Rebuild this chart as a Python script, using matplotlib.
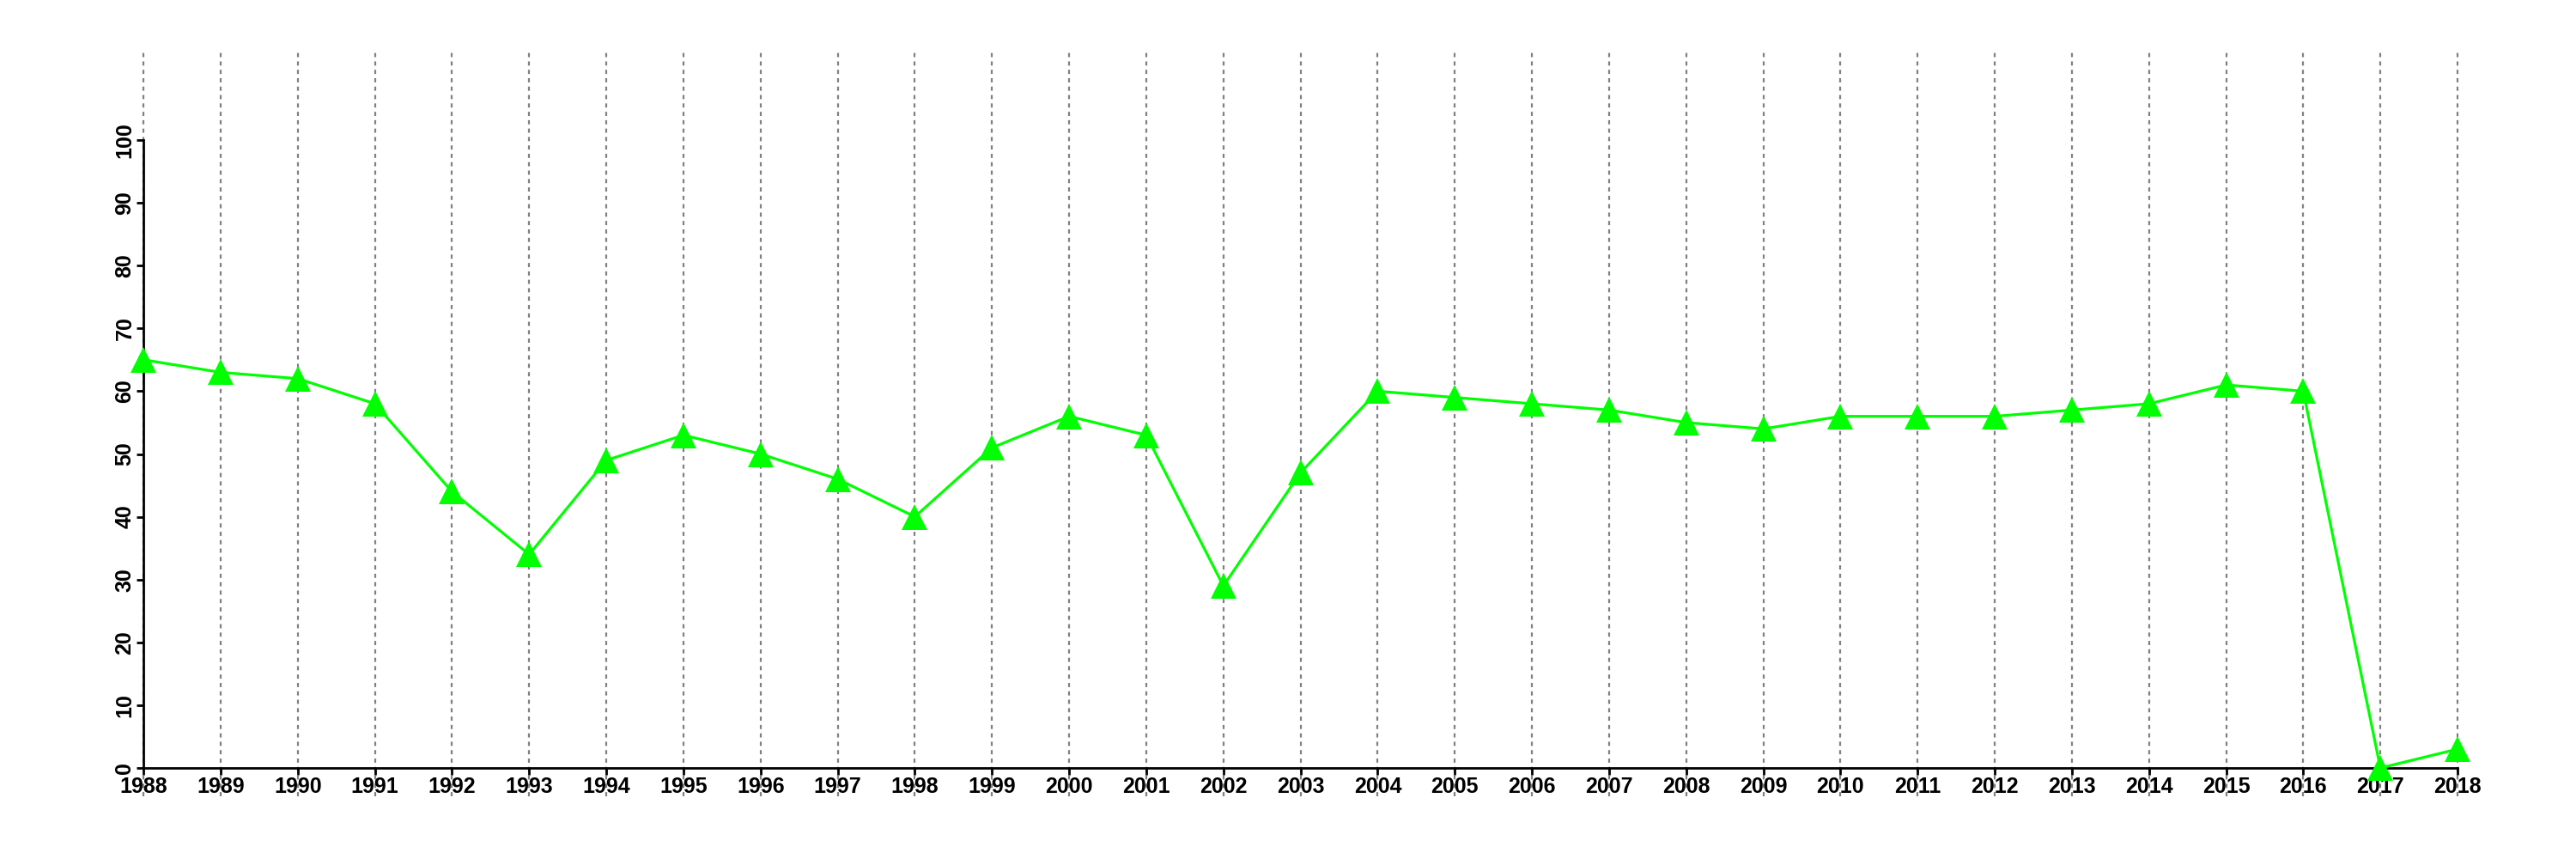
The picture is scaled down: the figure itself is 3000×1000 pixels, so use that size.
import matplotlib
matplotlib.use("Agg")
import matplotlib.pyplot as plt

years = list(range(1988, 2019))
values = [65, 63, 62, 58, 44, 34, 49, 53, 50, 46, 40, 51, 56, 53, 29, 47,
          60, 59, 58, 57, 55, 54, 56, 56, 56, 57, 58, 61, 60, 0, 3]
yticks = list(range(0, 101, 10))

plt.rcParams['font.family'] = ['Liberation Sans', 'DejaVu Sans']
plt.rcParams['font.weight'] = 'bold'

fig = plt.figure(figsize=(30, 10), dpi=100)
ax = fig.add_axes([0.0557, 0.106, 0.8983, 0.731])

ax.set_xlim(1988, 2018)
ax.set_ylim(0, 100)

# vertical dotted grid lines extending beyond the plot area
for yr in years:
    ax.plot([yr, yr], [-4.5, 114.1], color='#808080', linestyle=(0, (2.2, 2.2)),
            linewidth=1.6, clip_on=False, zorder=1)

ax.plot(years, values, color='#00FF00', linewidth=2.3, marker='^',
        markersize=21, markeredgewidth=0, clip_on=False, zorder=3)

ax.set_xticks(years)
ax.set_xticklabels([str(y) for y in years], fontsize=18, fontweight='bold')
ax.set_yticks(yticks)
ax.set_yticklabels([str(v) for v in yticks], fontsize=18, fontweight='bold',
                   rotation=90, va='center')

for side in ['top', 'right']:
    ax.spines[side].set_visible(False)
for side in ['left', 'bottom']:
    ax.spines[side].set_linewidth(2)
ax.tick_params(axis='both', direction='out', length=6, width=2, pad=1)

fig.savefig('out.png', dpi=100)
